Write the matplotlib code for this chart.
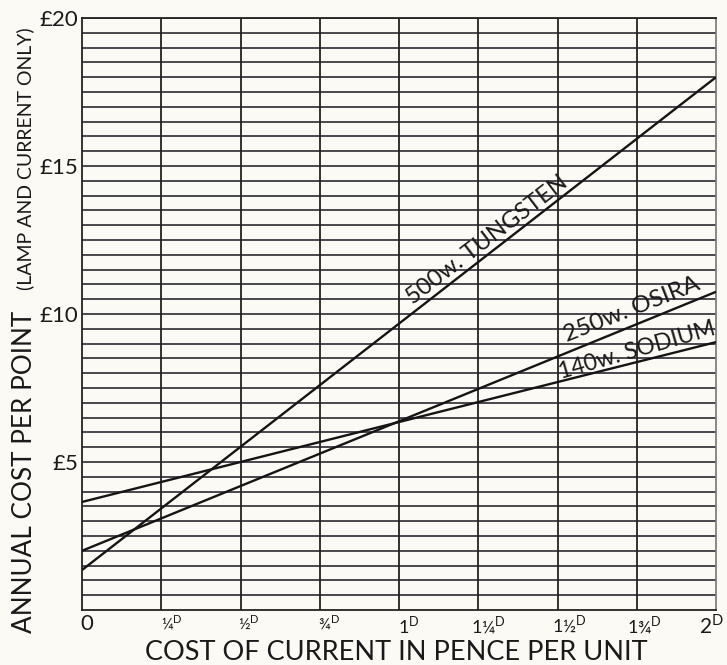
import numpy as np
import matplotlib; matplotlib.use("Agg")
import matplotlib.pyplot as plt
from matplotlib.transforms import offset_copy

plt.rcParams['font.family'] = ['Lato', 'DejaVu Sans']
plt.rcParams['mathtext.fontset'] = 'custom'
plt.rcParams['mathtext.rm'] = 'Lato'

# cost of current (pence per unit) -> annual cost per point (pounds)
pence = [0.0, 2.0]
tungsten_500w = [1.35, 18.0]
osira_250w = [2.0, 10.75]
sodium_140w = [3.65, 9.05]

x_ticks = [0, 0.25, 0.5, 0.75, 1.0, 1.25, 1.5, 1.75, 2.0]
D = "$^{\\mathrm{D}}$"
x_labels = ["0", "¼" + D, "½" + D, "¾" + D, "1" + D, "1¼" + D, "1½" + D, "1¾" + D, "2" + D]
x_label_size = [16, 11.5, 11.5, 11.5, 13, 13, 13, 13, 15]
x_label_nudge = [-2, 0, -2, -2, -1, -7, -6, -10, -17]   # px, as printed
y_ticks = [5, 10, 15, 20]
y_labels = ["£5", "£10", "£15", "£20"]

bg = "#fcfaf5"
ink = "#1a1a1a"
fig = plt.figure(figsize=(7.27, 6.65), dpi=100, facecolor=bg)
ax = fig.add_axes([82/727, 1 - 610/665, (716 - 82)/727, (610 - 18)/665], facecolor=bg)

# grid: every 1/4 penny, every 10 shillings
for yv in np.arange(0.5, 20.01, 0.5):
    ax.axhline(yv, color="#3c3a40", lw=1.3, zorder=1)
for xv in x_ticks[1:-1]:
    ax.axvline(xv, color="#222222", lw=1.3, zorder=1)

for ys in (tungsten_500w, osira_250w, sodium_140w):
    ax.plot(pence, ys, color="#151515", lw=1.7, zorder=3, solid_capstyle="butt")

def at(ys, x):
    return np.interp(x, pence, ys)

kw = dict(ha="left", va="baseline", rotation_mode="anchor", color=ink, zorder=4)
ax.text(1.045, at(tungsten_500w, 1.045) + 0.25, "500w. TUNGSTEN", rotation=37.5, fontsize=17, **kw)
ax.text(1.53, at(osira_250w, 1.53) + 0.35, "250w. OSIRA", rotation=21.5, fontsize=17.5, **kw)
ax.text(1.51, at(sodium_140w, 1.51) + 0.08, "140w. SODIUM", rotation=16, fontsize=16.5, **kw)

ax.set_xlim(0, 2)
ax.set_ylim(0, 20)
ax.set_xticks([])
ax.set_yticks(y_ticks)
ax.set_yticklabels(y_labels, fontsize=16)
ax.tick_params(length=0, pad=3, colors=ink)

# x tick labels, placed by the x scale with the printed nudges
xt = ax.get_xaxis_transform()
for xv, lab, fs, dx in zip(x_ticks, x_labels, x_label_size, x_label_nudge):
    tr = offset_copy(xt, fig=fig, x=dx, y=-4, units="dots")
    ax.text(xv, 0, lab, transform=tr, ha="left", va="top", fontsize=fs, color=ink, clip_on=False)

for s in ["left", "bottom", "top"]:
    ax.spines[s].set_color("#222222")
    ax.spines[s].set_linewidth(1.3)
ax.spines["right"].set_color("#777777")
ax.spines["right"].set_linewidth(1.2)

fig.text(396/727, 1 - 652/665, "COST OF CURRENT IN PENCE PER UNIT", ha="center", va="center",
         fontsize=19.5, color=ink)
fig.text(25/727, 1 - 633/665, "ANNUAL COST PER POINT", rotation=90, ha="center", va="bottom",
         fontsize=18.8, color=ink)
fig.text(25/727, 1 - 290/665, "(LAMP AND CURRENT ONLY)", rotation=90, ha="center", va="bottom",
         fontsize=14, color=ink)

fig.savefig("out.png", dpi=100, facecolor=bg)
